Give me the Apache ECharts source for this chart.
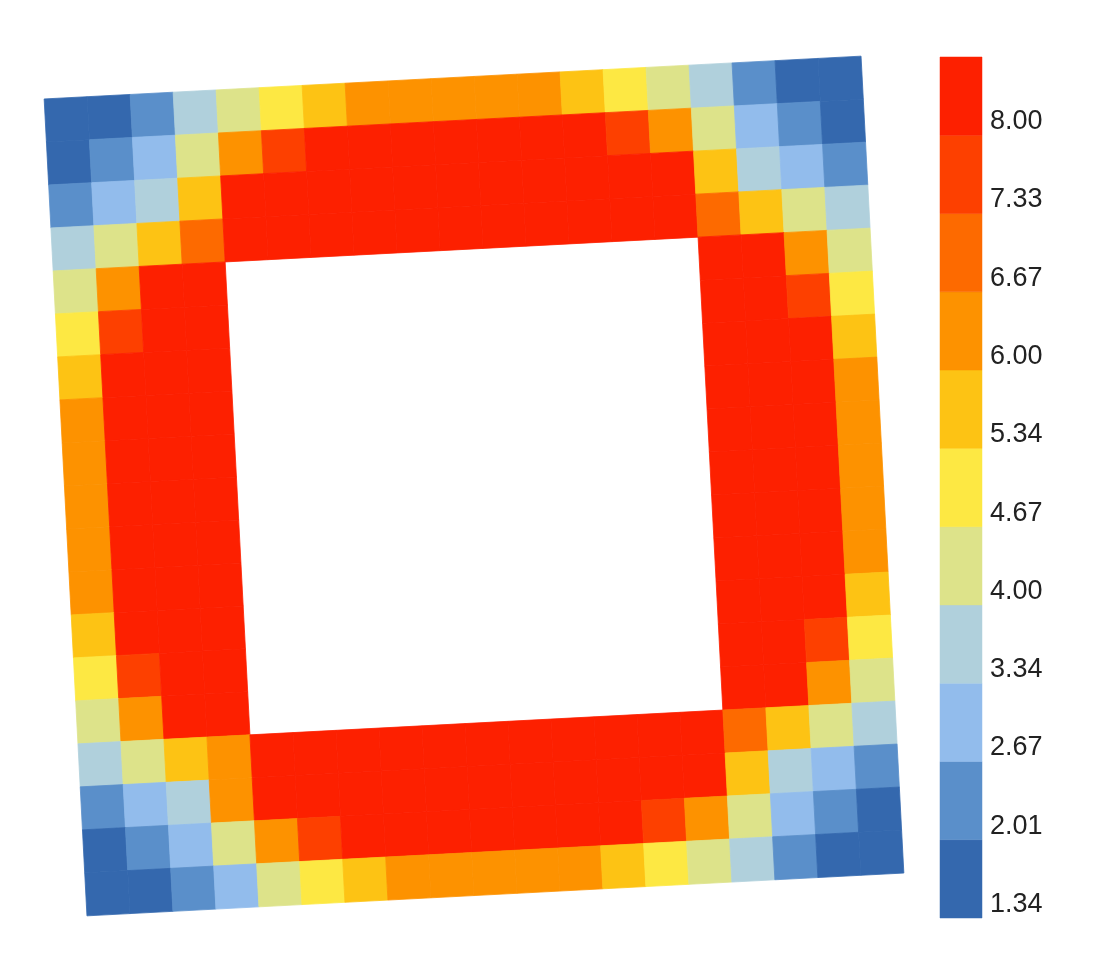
<!DOCTYPE html>
<html><head><meta charset="utf-8">
<script src="https://cdn.jsdelivr.net/npm/echarts@6/dist/echarts.min.js"></script>
<style>html,body{margin:0;background:#fff}#c{width:1119px;height:969px}</style>
</head><body><div id="c"></div>
<script>
var N = null;
var rows = [
 [1.5,1.9,2.3,3.5,4.3,5.0,5.6,6.1,6.4,6.4,6.4,6.1,5.6,5.0,4.3,3.5,2.3,1.9,1.5],
 [1.9,2.3,3.0,4.3,6.3,7.6,8.5,8.5,8.5,8.5,8.5,8.5,8.2,7.6,6.3,4.3,3.0,2.3,1.9],
 [2.3,3.0,3.9,5.6,8.5,8.5,8.5,8.5,8.5,8.5,8.5,8.5,8.5,8.5,8.5,5.6,3.9,3.0,2.3],
 [3.5,4.3,5.6,6.8,8.5,8.5,8.5,8.5,8.5,8.5,8.5,8.5,8.5,8.5,8.5,6.8,5.6,4.3,3.5],
 [4.3,6.3,8.5,8.5,N,N,N,N,N,N,N,N,N,N,N,8.5,8.5,6.3,4.3],
 [5.0,7.6,8.5,8.5,N,N,N,N,N,N,N,N,N,N,N,8.5,8.5,7.6,5.0],
 [5.6,8.5,8.5,8.5,N,N,N,N,N,N,N,N,N,N,N,8.5,8.5,8.5,5.6],
 [6.1,8.5,8.5,8.5,N,N,N,N,N,N,N,N,N,N,N,8.5,8.5,8.5,6.1],
 [6.3,8.5,8.5,8.5,N,N,N,N,N,N,N,N,N,N,N,8.5,8.5,8.5,6.3],
 [6.3,8.5,8.5,8.5,N,N,N,N,N,N,N,N,N,N,N,8.5,8.5,8.5,6.3],
 [6.3,8.5,8.5,8.5,N,N,N,N,N,N,N,N,N,N,N,8.5,8.5,8.5,6.3],
 [6.1,8.5,8.5,8.5,N,N,N,N,N,N,N,N,N,N,N,8.5,8.5,8.5,6.1],
 [5.6,8.5,8.5,8.5,N,N,N,N,N,N,N,N,N,N,N,8.5,8.5,8.5,5.6],
 [5.0,7.6,8.5,8.5,N,N,N,N,N,N,N,N,N,N,N,8.5,8.5,7.6,5.0],
 [4.3,6.3,8.5,8.5,N,N,N,N,N,N,N,N,N,N,N,8.5,8.5,6.3,4.3],
 [3.5,4.3,5.6,6.5,8.5,8.5,8.5,8.5,8.5,8.5,8.5,8.5,8.5,8.5,8.5,6.8,5.6,4.3,3.5],
 [2.3,3.0,3.9,6.0,8.5,8.5,8.5,8.5,8.5,8.5,8.5,8.5,8.5,8.5,8.5,5.8,3.9,3.0,2.3],
 [1.9,2.3,3.0,4.3,6.3,7.6,8.5,8.5,8.5,8.5,8.5,8.5,8.2,7.6,6.3,4.3,3.0,2.3,1.9],
 [1.5,1.9,2.3,3.0,4.3,5.0,5.6,6.1,6.4,6.4,6.4,6.1,5.6,5.0,4.3,3.5,2.3,1.9,1.5]
];
var tickLabels = ['1.34','2.01','2.67','3.34','4.00','4.67','5.34','6.00','6.67','7.33','8.00'];
var bandEdges = [-100, 2.01, 2.67, 3.34, 4.00, 4.67, 5.34, 6.00, 6.67, 7.33, 8.00, 100];
var colors = ['#3468ae','#5a8fca','#92bcec','#b0d0dc','#dde38a','#fde843','#fdc314','#fd9200','#fd6a00','#fd4000','#fd2000'];
var angleDeg = 3.0;

var cells = [];
rows.forEach(function(r, ri){ r.forEach(function(v, ci){ if (v !== null) cells.push([ci, ri, v]); }); });
var pieces = [];
for (var k = 0; k < 11; k++) pieces.push({gte: bandEdges[k], lt: bandEdges[k+1], color: colors[k]});
var legendBands = colors.map(function(c, i){ return [i, c]; });

var chart = echarts.init(document.getElementById('c'));
var th = angleDeg * Math.PI / 180, cs = Math.cos(th), sn = Math.sin(th);
chart.setOption({
  animation: false,
  grid: [
    {left: 65, top: 77, width: 818, height: 818},
    {left: 940, top: 57, width: 42, height: 861}
  ],
  xAxis: [
    {gridIndex: 0, type: 'value', min: 0, max: 19, show: false},
    {gridIndex: 1, type: 'value', min: 0, max: 1, show: false}
  ],
  yAxis: [
    {gridIndex: 0, type: 'value', min: 0, max: 19, inverse: true, show: false},
    {gridIndex: 1, type: 'value', min: 0, max: 11, interval: 1, position: 'right',
     axisLine: {show: false}, axisTick: {show: false}, splitLine: {show: false},
     axisLabel: {margin: 8, fontSize: 27, color: '#222', fontFamily: 'Liberation Sans, Arial',
       verticalAlign: 'bottom', lineHeight: 27,
       formatter: function(v){ return tickLabels[Math.round(v)] || ''; }}}
  ],
  visualMap: {type: 'piecewise', show: false, seriesIndex: 0, dimension: 2, pieces: pieces},
  series: [
    {type: 'custom', xAxisIndex: 0, yAxisIndex: 0, data: cells,
     renderItem: function(params, api){
       var c = api.value(0), r = api.value(1);
       var ctr = api.coord([9.5, 9.5]);
       var pts = [[c, r], [c+1, r], [c+1, r+1], [c, r+1]].map(function(p){
         var q = api.coord(p); var dx = q[0]-ctr[0], dy = q[1]-ctr[1];
         return [ctr[0] + dx*cs + dy*sn, ctr[1] - dx*sn + dy*cs];
       });
       var col = api.visual('color');
       return {type: 'polygon', shape: {points: pts}, style: {fill: col, stroke: col, lineWidth: 0.8}};
     }},
    {type: 'custom', xAxisIndex: 1, yAxisIndex: 1, data: legendBands,
     renderItem: function(params, api){
       var i = api.value(0);
       var a = api.coord([0, i]), b = api.coord([1, i+1]);
       var col = legendBands[params.dataIndex][1];
       return {type: 'rect', shape: {x: a[0], y: b[1], width: b[0]-a[0], height: a[1]-b[1]},
               style: {fill: col, stroke: col, lineWidth: 0.5}};
     }}
  ]
});
</script></body></html>
